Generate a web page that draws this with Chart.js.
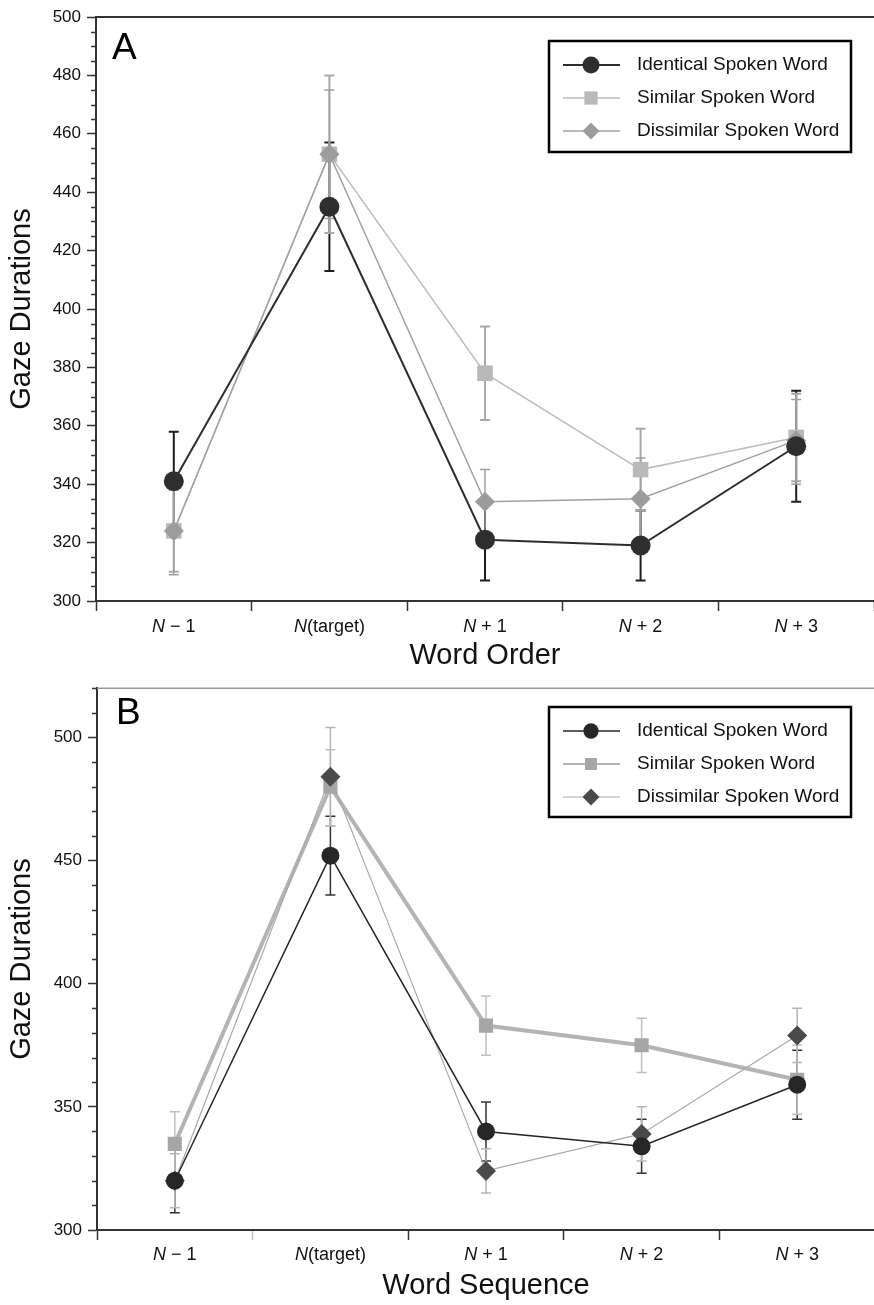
<!DOCTYPE html>
<html>
<head>
<meta charset="utf-8">
<script src="https://cdn.jsdelivr.net/npm/chart.js@4.4.1/dist/chart.umd.min.js"></script>
<style>
  html, body { margin: 0; background: #fff; overflow: hidden; width: 874px; height: 1305px; }
  canvas { position: absolute; left: 0; }
  #chartA { top: 0; }
  #chartB { top: 672px; }
</style>
</head>
<body>
<canvas id="chartA" width="885" height="672"></canvas>
<canvas id="chartB" width="885" height="633"></canvas>
<script>
// categories and series names
const wordLabels = ["N \u2212 1", "N(target)", "N + 1", "N + 2", "N + 3"];
const seriesNames = ["Identical Spoken Word", "Similar Spoken Word", "Dissimilar Spoken Word"];

// panel A (Word Order)
const aIdentical = [341, 435, 321, 319, 353];
const aIdenticalLow = [324, 413, 307, 307, 334];
const aIdenticalHigh = [358, 457, 335, 331, 372];
const aSimilar = [324, 453, 378, 345, 356];
const aSimilarLow = [310, 426, 362, 331, 341];
const aSimilarHigh = [338, 480, 394, 359, 371];
const aDissimilar = [324, 453, 334, 335, 355];
const aDissimilarLow = [309, 431, 323, 321, 340];
const aDissimilarHigh = [339, 475, 345, 349, 369];

// panel B (Word Sequence)
const bIdentical = [320, 452, 340, 334, 359];
const bIdenticalLow = [307, 436, 328, 323, 345];
const bIdenticalHigh = [333, 468, 352, 345, 373];
const bSimilar = [335, 480, 383, 375, 361];
const bSimilarLow = [322, 464, 371, 364, 347];
const bSimilarHigh = [348, 495, 395, 386, 375];
const bDissimilar = [320, 484, 324, 339, 379];
const bDissimilarLow = [309, 464, 315, 328, 368];
const bDissimilarHigh = [331, 504, 333, 350, 390];

const FONT = '"Liberation Sans", Arial, Helvetica, sans-serif';

function drawMarker(ctx, style, x, y, r, color) {
  ctx.fillStyle = color;
  ctx.beginPath();
  if (style === "circle") {
    ctx.arc(x, y, r, 0, Math.PI * 2);
  } else if (style === "rect") {
    const s = r * Math.SQRT1_2;
    ctx.rect(x - s, y - s, 2 * s, 2 * s);
  } else {
    ctx.moveTo(x, y - r);
    ctx.lineTo(x + r, y);
    ctx.lineTo(x, y + r);
    ctx.lineTo(x - r, y);
    ctx.closePath();
  }
  ctx.fill();
}

// error bars, minor y ticks, top border, italic x labels, panel letter, legend box
const decorPlugin = {
  id: "decor",
  beforeDatasetsDraw(chart) {
    const ctx = chart.ctx;
    const y = chart.scales.y;
    ctx.save();
    chart.data.datasets.forEach((ds, di) => {
      const meta = chart.getDatasetMeta(di);
      ctx.strokeStyle = ds.errColor;
      ctx.lineWidth = ds.errWidth;
      meta.data.forEach((pt, i) => {
        const lo = y.getPixelForValue(ds.errLow[i]);
        const hi = y.getPixelForValue(ds.errHigh[i]);
        ctx.beginPath();
        ctx.moveTo(pt.x, lo); ctx.lineTo(pt.x, hi);
        ctx.moveTo(pt.x - 5, lo); ctx.lineTo(pt.x + 5, lo);
        ctx.moveTo(pt.x - 5, hi); ctx.lineTo(pt.x + 5, hi);
        ctx.stroke();
      });
    });
    ctx.restore();
  },
  afterDraw(chart, args, opts) {
    const ctx = chart.ctx;
    const area = chart.chartArea;
    const y = chart.scales.y;
    const x = chart.scales.x;
    ctx.save();

    // minor ticks on y
    ctx.strokeStyle = "#333";
    ctx.lineWidth = 1.5;
    y.ticks.forEach(t => {
      if (t.value % opts.major !== 0) {
        const py = Math.round(y.getPixelForValue(t.value)) + 0.5;
        ctx.beginPath();
        ctx.moveTo(area.left - 5, py);
        ctx.lineTo(area.left, py);
        ctx.stroke();
      }
    });

    // top frame line
    ctx.strokeStyle = opts.topColor;
    ctx.lineWidth = opts.topWidth;
    ctx.beginPath();
    ctx.moveTo(area.left, area.top);
    ctx.lineTo(chart.width, area.top);
    ctx.stroke();

    // x labels with italic N
    ctx.fillStyle = "#111";
    ctx.textBaseline = "middle";
    ctx.textAlign = "left";
    chart.data.labels.forEach((label, i) => {
      const head = label[0];
      const rest = label.slice(1);
      ctx.font = "italic 18px " + FONT;
      const w1 = ctx.measureText(head).width;
      ctx.font = "18px " + FONT;
      const w2 = ctx.measureText(rest).width;
      const cx = x.getPixelForValue(i) - (w1 + w2) / 2;
      const ly = area.bottom + opts.labelGap;
      ctx.font = "italic 18px " + FONT;
      ctx.fillText(head, cx, ly);
      ctx.font = "18px " + FONT;
      ctx.fillText(rest, cx + w1, ly);
    });

    // panel letter
    ctx.font = "37px " + FONT;
    ctx.fillStyle = "#000";
    ctx.fillText(opts.letter, opts.letterX, opts.letterY);

    // legend box
    const lg = opts.legend;
    ctx.fillStyle = "#fff";
    ctx.fillRect(lg.x, lg.y, lg.w, lg.h);
    ctx.strokeStyle = "#000";
    ctx.lineWidth = 2.5;
    ctx.strokeRect(lg.x, lg.y, lg.w, lg.h);
    chart.data.datasets.forEach((ds, di) => {
      const ry = lg.y + 24 + di * 33;
      ctx.strokeStyle = ds.borderColor;
      ctx.lineWidth = Math.min(ds.borderWidth, 2);
      ctx.beginPath();
      ctx.moveTo(lg.x + 14, ry);
      ctx.lineTo(lg.x + 71, ry);
      ctx.stroke();
      drawMarker(ctx, ds.pointStyle, lg.x + 42, ry, ds.pointRadius * 0.85, ds.pointBackgroundColor);
      ctx.fillStyle = "#111";
      ctx.font = "19px " + FONT;
      ctx.textBaseline = "middle";
      ctx.fillText(ds.label, lg.x + 88, ry);
    });
    ctx.restore();
  }
};

function makeDataset(label, values, low, high, s) {
  return {
    label: label,
    data: values,
    errLow: low,
    errHigh: high,
    borderColor: s.line,
    borderWidth: s.lineWidth,
    pointStyle: s.style,
    pointRadius: s.radius,
    pointHoverRadius: s.radius,
    pointBackgroundColor: s.point,
    pointBorderColor: s.point,
    pointBorderWidth: 0,
    errColor: s.err,
    errWidth: s.errWidth,
    order: s.order,
    tension: 0
  };
}

function buildChart(id, datasets, c) {
  return new Chart(document.getElementById(id).getContext("2d"), {
    type: "line",
    data: { labels: wordLabels, datasets: datasets },
    plugins: [decorPlugin],
    options: {
      responsive: false,
      animation: false,
      devicePixelRatio: 1,
      layout: { padding: { top: c.top, left: 0, right: 0, bottom: 0 } },
      plugins: {
        legend: { display: false },
        tooltip: { enabled: false },
        decor: c.decor
      },
      scales: {
        x: {
          type: "category",
          offset: true,
          grid: {
            offset: true,
            drawOnChartArea: false,
            tickLength: 10,
            tickWidth: 1.5,
            tickColor: c.xTickColor
          },
          border: { color: "#333", width: 2 },
          ticks: { display: false },
          title: {
            display: true,
            text: c.xTitle,
            color: "#111",
            font: { size: 29, family: FONT, lineHeight: 1 },
            padding: { top: 0, bottom: c.xTitlePad }
          },
          afterFit(scale) {
            scale.height = c.xHeight;
          }
        },
        y: {
          min: c.yMin,
          max: c.yMax,
          grid: {
            drawOnChartArea: false,
            tickLength: 9,
            tickWidth: 1.5,
            tickColor: ctx => (ctx.tick && ctx.tick.value % c.decor.major === 0) ? "#333" : "rgba(0,0,0,0)"
          },
          border: { color: "#333", width: 2 },
          ticks: {
            stepSize: c.step,
            autoSkip: false,
            padding: 6,
            color: "#111",
            font: { size: 17, family: FONT },
            callback: v => (v % c.decor.major === 0 ? v : "")
          },
          title: {
            display: true,
            text: "Gaze Durations",
            color: "#111",
            font: { size: 29, family: FONT, lineHeight: 1 },
            padding: { top: 7, bottom: 0 }
          },
          afterFit(scale) {
            scale.width = c.yWidth;
          }
        }
      }
    }
  });
}

const chartA = buildChart("chartA", [
  makeDataset(seriesNames[0], aIdentical, aIdenticalLow, aIdenticalHigh,
    { line: "#2e2e2e", lineWidth: 2, style: "circle", radius: 10, point: "#2e2e2e", err: "#1e1e1e", errWidth: 2, order: 0 }),
  makeDataset(seriesNames[1], aSimilar, aSimilarLow, aSimilarHigh,
    { line: "#bdbdbd", lineWidth: 1.5, style: "rect", radius: 11, point: "#b9b9b9", err: "#a9a9a9", errWidth: 2, order: 2 }),
  makeDataset(seriesNames[2], aDissimilar, aDissimilarLow, aDissimilarHigh,
    { line: "#a2a2a2", lineWidth: 1.5, style: "rectRot", radius: 10, point: "#9c9c9c", err: "#a0a0a0", errWidth: 1.5, order: 1 })
], {
  top: 17, xHeight: 71, yWidth: 96, xTitlePad: 2,
  yMin: 300, yMax: 500, step: 5,
  xTitle: "Word Order",
  xTickColor: "#333",
  decor: {
    major: 20, topColor: "#333", topWidth: 2, labelGap: 26,
    letter: "A", letterX: 112, letterY: 49,
    legend: { x: 549, y: 41, w: 302, h: 111 }
  }
});

const chartB = buildChart("chartB", [
  makeDataset(seriesNames[0], bIdentical, bIdenticalLow, bIdenticalHigh,
    { line: "#262626", lineWidth: 1.5, style: "circle", radius: 9, point: "#262626", err: "#333333", errWidth: 1.5, order: 0 }),
  makeDataset(seriesNames[1], bSimilar, bSimilarLow, bSimilarHigh,
    { line: "#b4b4b4", lineWidth: 4, style: "rect", radius: 10, point: "#a6a6a6", err: "#c0c0c0", errWidth: 1.5, order: 2 }),
  makeDataset(seriesNames[2], bDissimilar, bDissimilarLow, bDissimilarHigh,
    { line: "#a8a8a8", lineWidth: 1.2, style: "rectRot", radius: 10, point: "#4a4a4a", err: "#b5b5b5", errWidth: 1.5, order: 1 })
], {
  top: 8, xHeight: 75, yWidth: 97, xTitlePad: 5,
  yMin: 300, yMax: 520, step: 10,
  xTitle: "Word Sequence",
  xTickColor: ctx => (ctx.index === 1 ? "#c4c4c4" : "#333"),
  decor: {
    major: 50, topColor: "#999", topWidth: 1.5, labelGap: 25,
    letter: "B", letterX: 116, letterY: 42,
    legend: { x: 549, y: 35, w: 302, h: 110 }
  }
});
</script>
</body>
</html>
